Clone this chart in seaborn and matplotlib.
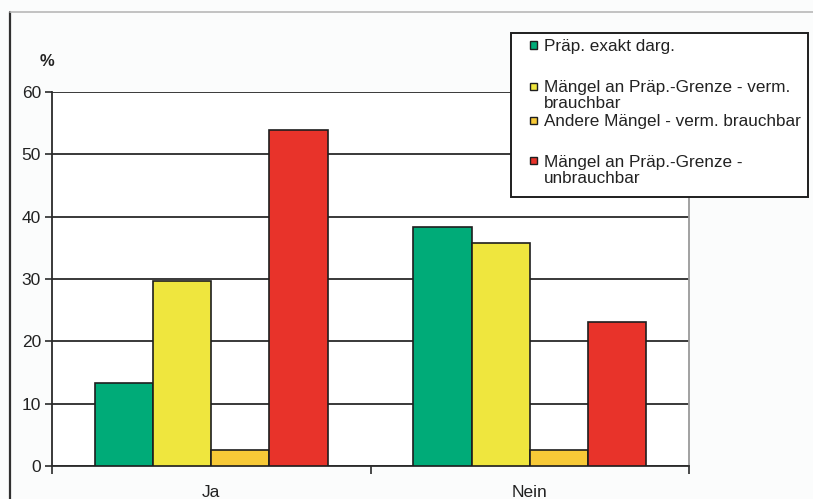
import matplotlib
matplotlib.use("Agg")
import matplotlib.pyplot as plt
from matplotlib.lines import Line2D
from matplotlib.patches import Rectangle
import seaborn as sns
import pandas as pd

# Data
categories = ["Ja", "Nein"]
series = [
    "Präp. exakt darg.",
    "Mängel an Präp.-Grenze - verm. brauchbar",
    "Andere Mängel - verm. brauchbar",
    "Mängel an Präp.-Grenze - unbrauchbar",
]
legend_labels = [
    "Präp. exakt darg.",
    "Mängel an Präp.-Grenze - verm.\nbrauchbar",
    "Andere Mängel - verm. brauchbar",
    "Mängel an Präp.-Grenze -\nunbrauchbar",
]
values_ja = [13.3, 29.7, 2.6, 53.9]
values_nein = [38.4, 35.8, 2.6, 23.1]
y_ticks = [0, 10, 20, 30, 40, 50, 60]
colors = ["#00ab78", "#efe63e", "#f7c937", "#e8332a"]

rows = []
for cat, vals in zip(categories, [values_ja, values_nein]):
    for s, v in zip(series, vals):
        rows.append({"Antwort": cat, "Gruppe": s, "Prozent": v})
df = pd.DataFrame(rows)

sns.set_theme(style="white")
plt.rcParams["font.family"] = ["Liberation Sans", "DejaVu Sans"]

W, H = 813, 499
BG = "#fbfcfc"
fig = plt.figure(figsize=(W / 100, H / 100), dpi=100, facecolor=BG)
ax = fig.add_axes([52 / W, 1 - 466 / H, (689 - 52) / W, (466 - 92) / H])
ax.set_facecolor("white")

sns.barplot(
    data=df, x="Antwort", y="Prozent", hue="Gruppe", order=categories,
    hue_order=series, palette=colors, width=0.73, gap=0,
    edgecolor="#1e1e1e", linewidth=1.2, saturation=1, ax=ax, legend=False,
    zorder=3,
)

ax.set_ylim(0, 60)
ax.set_xlim(-0.5, 1.5)
ax.set_yticks(y_ticks)
ax.yaxis.grid(True, color="#2a2a2a", linewidth=1.3, zorder=0)
ax.set_axisbelow(True)
ax.set_xlabel("")
ax.set_ylabel("")

for side in ["left", "bottom"]:
    ax.spines[side].set_color("#2a2a2a")
    ax.spines[side].set_linewidth(1.3)
ax.spines["top"].set_visible(False)
ax.spines["right"].set_color("#9a9a9a")
ax.spines["right"].set_linewidth(1.3)

ax.tick_params(axis="y", which="major", left=True, length=5, width=1.2,
               color="#2a2a2a", labelsize=12.5, labelcolor="#222222", pad=3)
ax.tick_params(axis="x", which="major", bottom=False, length=0,
               labelsize=12.5, labelcolor="#222222", pad=14)
ax.set_xticks([-0.5, 0.5, 1.5], minor=True)
ax.tick_params(axis="x", which="minor", bottom=True, length=6, width=1.2,
               color="#2a2a2a")

# "%" unit label above the y axis
fig.text(47 / W, 1 - 62 / H, "%", fontsize=12, fontweight="bold",
         color="#222222", ha="center", va="center")

# Outer frame lines (left and top)
fig.add_artist(Line2D([10 / W, 10 / W], [0, 1 - 12 / H], transform=fig.transFigure,
                      color="#303030", linewidth=1.6))
fig.add_artist(Line2D([10 / W, 1], [1 - 12 / H, 1 - 12 / H], transform=fig.transFigure,
                      color="#b8b8b8", linewidth=1.2))

# Legend box with hand-placed entries
def fx(px):
    return px / W

def fy(py):
    return 1 - py / H

fig.add_artist(Rectangle((fx(511), fy(197)), fx(808) - fx(511), fy(33) - fy(197),
                         transform=fig.transFigure, facecolor="white",
                         edgecolor="#1e1e1e", linewidth=1.4, zorder=5))
entry_rows = [45, 86, 120, 161]
for c, lab, ry in zip(colors, legend_labels, entry_rows):
    fig.add_artist(Rectangle((fx(530), fy(ry + 3.5)), 7 / W, 7 / H,
                             transform=fig.transFigure, facecolor=c,
                             edgecolor="#1e1e1e", linewidth=1.0, zorder=6))
    fig.text(fx(544), fy(ry - 6), lab, fontsize=12.3, color="#222222",
             ha="left", va="top", linespacing=1.12, zorder=6)

fig.savefig("out.png", dpi=100, facecolor=fig.get_facecolor())
